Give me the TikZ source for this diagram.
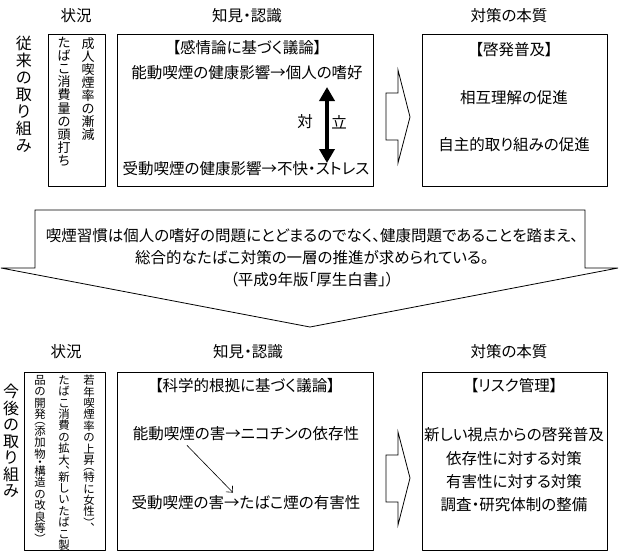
\documentclass[tikz,border=0pt]{standalone}
\usepackage{fontspec}
\setmainfont{Noto Sans CJK JP}[RawFeature=+palt]
\newfontfamily\tatefam{Noto Sans CJK JP}
\usetikzlibrary{arrows.meta}

\tikzset{
  frame/.style={draw, line width=0.8pt, inner sep=0pt, outer sep=0pt},
  lbl/.style={font=\fontsize{15.5}{18}\selectfont, inner sep=0pt},
  title/.style={font=\tatefam\fontsize{16}{17}\selectfont, align=center, inner sep=0pt, anchor=north},
  tate/.style={font=\tatefam\fontsize{13}{13.1}\selectfont, align=center, inner sep=0pt, anchor=north},
  tatesq/.style={tate, font=\tatefam\fontsize{11.4}{11.4}\selectfont},
  blockarr/.style={draw, line width=0.8pt, line join=miter},
  versus/.style={line width=4pt, {Triangle[width=15pt,length=14pt]}-{Triangle[width=15pt,length=14pt]}},
  thinarr/.style={line width=0.6pt, -{Straight Barb[length=5pt,width=9pt]}}
}

\begin{document}
\begin{tikzpicture}[x=1pt,y=-1pt,line cap=round,line join=round]
  \useasboundingbox (0,0) rectangle (620,552);

  % upper row: the former approach
  \node[lbl] (h-sit1) at (76,16) {状況};
  \node[lbl] (h-kno1) at (247,16) {知見・認識};
  \node[lbl] (h-mes1) at (509,16) {対策の本質};
  \node[title] (t-old) at (24,36) {従\\来\\の\\取\\り\\組\\み};

  \node[frame, minimum width=57pt, minimum height=152pt] (sit1) at (76.5,110) {};
  \node[tate] (sit1-a) at (88,37) {成\\人\\喫\\煙\\率\\の\\漸\\減};
  \node[tate] (sit1-b) at (64,37) {た\\ば\\こ\\消\\費\\量\\の\\頭\\打\\ち};

  \node[frame, minimum width=256pt, minimum height=152pt] (kno1) at (245,110) {};
  \node[lbl] (kno1-t) at (247,48) {【感情論に基づく議論】};
  \node[lbl] (kno1-a) at (247,73) {能動喫煙の健康影響→個人の嗜好};
  \node[lbl] (kno1-b) at (246,169) {受動喫煙の健康影響→不快・ストレス};
  \coordinate (vs-top) at (327,87);
  \coordinate (vs-bot) at (327,163);
  \draw[versus] (vs-top) -- (vs-bot);
  \node[lbl] (vs-l) at (305,122) {対};
  \node[lbl] (vs-r) at (339,122) {立};

  \draw[blockarr] (386,93) -- (398,93) -- (398,70) -- (410,117)
    -- (398,163) -- (398,140) -- (386,140) -- cycle;

  \node[frame, minimum width=185pt, minimum height=152pt] (mes1) at (514.5,110) {};
  \node[lbl] (mes1-t) at (514,50) {【啓発普及】};
  \node[lbl] (mes1-a) at (514,98) {相互理解の促進};
  \node[lbl] (mes1-b) at (514,145) {自主的取り組みの促進};

  % the big turn arrow in the middle
  \draw[blockarr] (35,210) -- (585,210) -- (585,268) -- (618,268) -- (310,327)
    -- (1,268) -- (35,268) -- cycle;
  \node[lbl, align=center, font=\fontsize{15.5}{22}\selectfont] (quote) at (312,258)
    {喫煙習慣は個人の嗜好の問題にとどまるのでなく、健康問題であることを踏まえ、\\
     総合的なたばこ対策の一層の推進が求められている。\\
     （平成9年版「厚生白書」）};

  % lower row: the approach from now on
  \node[lbl] (h-sit2) at (66,352) {状況};
  \node[lbl] (h-kno2) at (248,352) {知見・認識};
  \node[lbl] (h-mes2) at (509,352) {対策の本質};
  \node[title, font=\tatefam\fontsize{16}{16.5}\selectfont] (t-new) at (11,384) {今\\後\\の\\取\\り\\組\\み};

  \node[frame, minimum width=81pt, minimum height=178pt] (sit2) at (64.5,461) {};
  \begin{scope}
    \clip (24,372) rectangle (105,550);
    \node[tatesq] (sit2-a) at (89,375)
      {若\\年\\喫\\煙\\率\\の\\上\\昇\\[-5.7pt]︵\\特\\に\\女\\性\\︶\\[-5.7pt]︑};
    \node[tatesq] (sit2-b) at (64,375)
      {た\\ば\\こ\\消\\費\\の\\拡\\大\\︑\\[-5.7pt]新\\し\\い\\た\\ば\\こ\\製};
    \node[tatesq] (sit2-c) at (40,375)
      {品\\の\\開\\発\\[-5.7pt]︵\\添\\加\\物\\[-2.85pt]・\\[-2.85pt]構\\造\\の\\改\\良\\等\\︶};
  \end{scope}

  \node[frame, minimum width=256pt, minimum height=178pt] (kno2) at (245,461) {};
  \node[lbl] (kno2-t) at (245,386) {【科学的根拠に基づく議論】};
  \node[lbl] (kno2-a) at (246,434) {能動喫煙の害→ニコチンの依存性};
  \node[lbl] (kno2-b) at (246,503) {受動喫煙の害→たばこ煙の有害性};
  \draw[thinarr] ([xshift=-59pt,yshift=-4pt]kno2-a.south) -- ([xshift=-13pt,yshift=3pt]kno2-b.north);

  \draw[blockarr] (386,455) -- (398,455) -- (398,432) -- (410,478)
    -- (398,525) -- (398,502) -- (386,502) -- cycle;

  \node[frame, minimum width=185pt, minimum height=178pt] (mes2) at (514.5,461) {};
  \node[lbl] (mes2-t) at (514,386) {【リスク管理】};
  \node[lbl] (mes2-a) at (514,435) {新しい視点からの啓発普及};
  \node[lbl] (mes2-b) at (514,459) {依存性に対する対策};
  \node[lbl] (mes2-c) at (514,482) {有害性に対する対策};
  \node[lbl] (mes2-d) at (514,505) {調査・研究体制の整備};
\end{tikzpicture}
\end{document}
